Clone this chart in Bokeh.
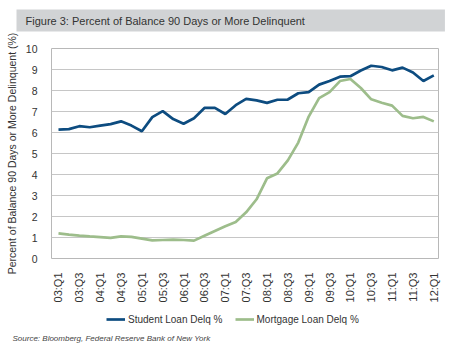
import math
from bokeh.plotting import figure
from bokeh.layouts import column
from bokeh.models import (Range1d, FixedTicker, Legend, LegendItem, Title)
from bokeh.embed import file_html
from bokeh.resources import INLINE

quarters = [f"{y:02d}:Q{q}" for y in range(3, 13) for q in range(1, 5)][:37]

student = [6.14, 6.16, 6.30, 6.25, 6.33, 6.40, 6.53, 6.33, 6.06, 6.73,
           7.02, 6.64, 6.42, 6.68, 7.17, 7.17, 6.88, 7.30, 7.60, 7.53,
           7.41, 7.56, 7.57, 7.87, 7.92, 8.28, 8.45, 8.66, 8.68, 8.95,
           9.18, 9.12, 8.96, 9.09, 8.86, 8.45, 8.72]
mortgage = [1.20, 1.14, 1.09, 1.05, 1.02, 0.98, 1.05, 1.03, 0.95, 0.86,
            0.88, 0.90, 0.88, 0.85, 1.08, 1.31, 1.54, 1.74, 2.20, 2.82,
            3.82, 4.05, 4.67, 5.52, 6.76, 7.64, 7.92, 8.45, 8.55, 8.12,
            7.58, 7.42, 7.28, 6.79, 6.68, 6.74, 6.53]
series_names = ["Student Loan Delq %", "Mortgage Loan Delq %"]

x = list(range(len(quarters)))

FONT = "Liberation Sans"
BLUE = "#0d4c80"
GREEN = "#9dbd8b"

# ---- title strip ----
t = figure(width=450, height=32, output_backend="svg", toolbar_location=None,
           x_range=Range1d(0, 1), y_range=Range1d(0, 1),
           x_axis_type=None, y_axis_type=None,
           min_border_left=0, min_border_right=0, min_border_top=31,
           min_border_bottom=0)
t.outline_line_color = None
t.xgrid.visible = False
t.ygrid.visible = False
t.background_fill_color = "white"
t.border_fill_color = "white"
t.title.text = "Figure 3: Percent of Balance 90 Days or More Delinquent"
t.title.align = "left"
t.title.offset = -35
t.title.standoff = 0
t.title.text_font = FONT
t.title.text_font_size = "11px"
t.title.text_font_style = "normal"
t.title.text_color = "#333333"
t.title.background_fill_color = "#d1d3d5"
t.title.padding = dict(left=9, right=140, top=5, bottom=5)

# ---- main chart ----
p = figure(width=450, height=273, output_backend="svg", toolbar_location=None,
           x_range=Range1d(-0.67, 36.45), y_range=Range1d(0, 10),
           min_border_left=51, min_border_right=12, min_border_top=16,
           min_border_bottom=41)
p.background_fill_color = "white"
p.border_fill_color = "white"
p.outline_line_color = "#b8b8b8"

p.line(x, student, line_color=BLUE, line_width=2.7)
p.line(x, mortgage, line_color=GREEN, line_width=2.7)

p.xaxis.ticker = FixedTicker(ticks=x[::2])
p.xaxis.major_label_overrides = {i: quarters[i] for i in x[::2]}
p.xaxis.major_label_orientation = math.pi / 2
p.yaxis.ticker = FixedTicker(ticks=list(range(0, 11)))

for ax in (p.xaxis, p.yaxis):
    ax.axis_line_color = None
    ax.major_tick_line_color = None
    ax.minor_tick_line_color = None
    ax.major_label_text_font = FONT
    ax.major_label_text_color = "#333333"
    ax.major_label_standoff = 8
p.xaxis.major_label_text_font_size = "11px"
p.yaxis.major_label_text_font_size = "10.5px"

p.yaxis.axis_label = "Percent of Balance 90 Days or More Delinquent (%)"
p.yaxis.axis_label_text_font = FONT
p.yaxis.axis_label_text_font_size = "10.5px"
p.yaxis.axis_label_text_font_style = "normal"
p.yaxis.axis_label_text_color = "#333333"
p.yaxis.axis_label_standoff = 5

p.xgrid.visible = False
p.ygrid.grid_line_color = "#c6c6c6"
p.ygrid.grid_line_width = 1

# ---- legend + source strip ----
f = figure(width=450, height=45, output_backend="svg", toolbar_location=None,
           x_range=Range1d(0, 36), y_range=Range1d(20, 30),
           x_axis_type=None, y_axis_type=None,
           min_border_left=0, min_border_right=0, min_border_top=0,
           min_border_bottom=19)
f.outline_line_color = None
f.xgrid.visible = False
f.ygrid.visible = False
f.background_fill_color = "white"
f.border_fill_color = "white"

# same series, outside this strip's view: only their legend swatches show
k1 = f.line(x, student, line_color=BLUE, line_width=2.7)
k2 = f.line(x, mortgage, line_color=GREEN, line_width=2.7)
legend = Legend(items=[LegendItem(label=series_names[0], renderers=[k1]),
                       LegendItem(label=series_names[1], renderers=[k2])],
                orientation="horizontal", location=(55, 2),
                label_text_font=FONT, label_text_font_size="10px",
                label_text_color="#333333", glyph_width=19, glyph_height=20,
                label_standoff=3, spacing=12, padding=0, margin=0,
                border_line_color=None, background_fill_alpha=0)
f.add_layout(legend, "center")

f.add_layout(Title(text="Source: Bloomberg, Federal Reserve Bank of New York",
                   align="left", offset=-39, standoff=0,
                   text_font=FONT, text_font_size="8px", text_font_style="italic",
                   text_color="#444444"), "below")

open("out.html", "w").write(file_html(column(t, p, f, spacing=0), INLINE))
